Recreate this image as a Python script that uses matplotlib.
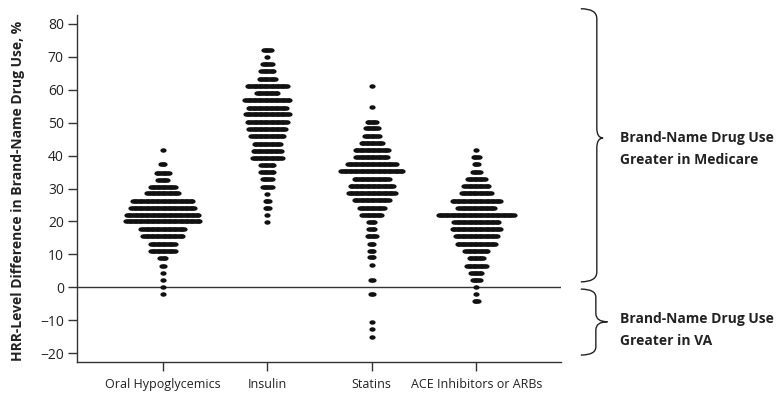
import numpy as np
import matplotlib
matplotlib.use("Agg")
import matplotlib.pyplot as plt
from matplotlib.path import Path
from matplotlib.patches import PathPatch
import matplotlib.transforms as mtransforms

plt.rcParams["font.family"] = ["Open Sans", "DejaVu Sans"]

categories = ["Oral Hypoglycemics", "Insulin", "Statins", "ACE Inhibitors or ARBs"]

# binned HRR-level differences (%) and number of HRRs in each bin
oral_vals = [41.6, 37.3, 34.8, 32.7, 30.6, 28.5, 26.2, 24.2, 22.0, 20.0, 17.6, 15.5,
             13.2, 11.0, 8.8, 6.5, 4.4, 2.4, 0.2, -2.0]
oral_counts = [1, 3, 8, 6, 15, 19, 36, 38, 43, 44, 26, 24, 15, 15, 4, 2, 1, 1, 1, 1]

insulin_vals = [72.1, 69.9, 67.6, 65.5, 63.2, 61.2, 59.0, 56.8, 54.5, 52.5, 50.3, 48.1,
                45.8, 43.6, 41.5, 39.3, 37.2, 34.9, 32.8, 30.6, 28.4, 26.2, 24.1, 21.9, 19.8]
insulin_counts = [5, 1, 6, 8, 10, 24, 13, 27, 23, 26, 24, 22, 20, 16, 17, 18, 8, 8, 6, 6,
                  1, 3, 3, 1, 1]

statins_vals = [61.0, 54.7, 50.2, 48.2, 45.9, 43.8, 41.6, 39.4, 37.3, 35.2, 32.8, 30.7,
                28.6, 26.4, 24.1, 21.9, 19.8, 17.8, 15.5, 13.3, 11.1, 9.1, 6.8, 2.2,
                -2.0, -10.4, -12.7, -15.0]
statins_counts = [1, 1, 6, 8, 9, 13, 20, 19, 29, 37, 21, 26, 28, 21, 15, 12, 4, 4, 6, 3,
                  3, 3, 1, 2, 2, 1, 1, 1]

ace_vals = [41.6, 39.4, 37.3, 34.9, 32.8, 30.7, 28.5, 26.2, 24.1, 22.0, 19.9, 17.6, 15.5,
            13.2, 11.0, 8.8, 6.5, 4.4, 2.2, 0.2, -2.0, -4.2]
ace_counts = [1, 4, 3, 5, 11, 15, 18, 29, 22, 45, 27, 29, 25, 23, 14, 9, 12, 7, 5, 1, 1, 3]

groups = [
    (oral_vals, oral_counts),
    (insulin_vals, insulin_counts),
    (statins_vals, statins_counts),
    (ace_vals, ace_counts),
]

yticks = [-20, -10, 0, 10, 20, 30, 40, 50, 60, 70, 80]

W, H = 781, 395
fig = plt.figure(figsize=(W / 100, H / 100), dpi=100)
ax_l, ax_r, ax_t, ax_b = 77, 561, 15, 362
ax = fig.add_axes([ax_l / W, 1 - ax_b / H, (ax_r - ax_l) / W, (ax_b - ax_t) / H])

xlim = (0.18, 4.81)
ylim = (-22.6, 82.6)
ax.set_xlim(*xlim)
ax.set_ylim(*ylim)

# elliptical dot, a bit wider than tall
t = np.linspace(0, 2 * np.pi, 40)
dot = Path(np.column_stack([np.cos(t), 0.72 * np.sin(t)]), closed=True)

# horizontal spacing between stacked dots, in pixels -> data units
step = 1.7 * (xlim[1] - xlim[0]) / (ax_r - ax_l)

for i, (vals, counts) in enumerate(groups):
    xs, ys = [], []
    for v, n in zip(vals, counts):
        off = (np.arange(n) - (n - 1) / 2) * step
        xs.extend(i + 1 + off)
        ys.extend([v] * n)
    ax.scatter(xs, ys, s=20, marker=dot, color="#111111", linewidths=0, zorder=3)

ax.axhline(0, color="#333333", lw=1.0, zorder=1)

for side in ["top", "right"]:
    ax.spines[side].set_visible(False)
for side in ["left", "bottom"]:
    ax.spines[side].set_color("#333333")
    ax.spines[side].set_linewidth(1.0)

ax.set_xticks(range(1, len(categories) + 1))
ax.set_xticklabels(categories, fontsize=9)
ax.set_yticks(yticks)
ax.set_yticklabels([f"{v}".replace("-", "\u2212") for v in yticks], fontsize=10)
ax.tick_params(axis="both", direction="out", length=6.5, width=1.0, color="#333333",
               labelcolor="#222222")
ax.tick_params(axis="y", pad=3)
ax.tick_params(axis="x", pad=5)

ax.set_ylabel("HRR-Level Difference in Brand-Name Drug Use, %", fontsize=10,
              fontweight="bold", color="#222222")
ax.yaxis.set_label_coords(-0.107, 0.493)

# curly braces on the right
trans = mtransforms.blended_transform_factory(ax.transAxes, ax.transData)


def brace(y_top, y_bot, y_tip, x_end, x_v, x_tip, r):
    verts = [
        (x_end, y_top), (x_v, y_top), (x_v, y_top - r),
        (x_v, y_tip + r),
        (x_v, y_tip), (x_tip, y_tip),
        (x_v, y_tip), (x_v, y_tip - r),
        (x_v, y_bot + r),
        (x_v, y_bot), (x_end, y_bot),
    ]
    codes = [Path.MOVETO, Path.CURVE3, Path.CURVE3,
             Path.LINETO,
             Path.CURVE3, Path.CURVE3,
             Path.CURVE3, Path.CURVE3,
             Path.LINETO,
             Path.CURVE3, Path.CURVE3]
    p = PathPatch(Path(verts, codes), transform=trans, fill=False,
                  edgecolor="#222222", lw=1.0, clip_on=False)
    ax.add_patch(p)


brace(84.5, 1.7, 45.3, 1.041, 1.074, 1.087, 3.0)
brace(-0.5, -20.5, -10.4, 1.041, 1.072, 1.096, 2.5)

ax.text(1.122, 42.0, "Brand-Name Drug Use\nGreater in Medicare", transform=trans,
        ha="left", va="center", fontsize=10, fontweight="bold", linespacing=1.75,
        color="#222222")
ax.text(1.122, -12.9, "Brand-Name Drug Use\nGreater in VA", transform=trans,
        ha="left", va="center", fontsize=10, fontweight="bold", linespacing=1.75,
        color="#222222")

fig.savefig("out.png", dpi=100)
